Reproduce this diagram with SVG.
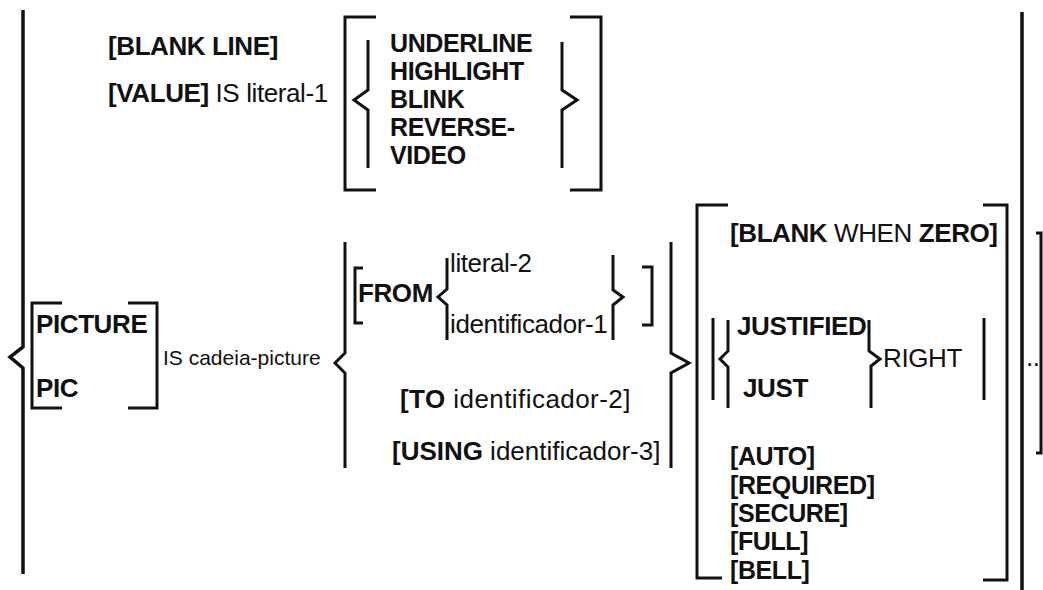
<svg xmlns="http://www.w3.org/2000/svg" width="1043" height="590" viewBox="0 0 1043 590">
<style>
text{font-family:"Liberation Sans",Arial,sans-serif;font-size:26px;fill:#111;letter-spacing:-0.4px;}
.b{font-weight:bold;}
.r{font-weight:normal;}
.sm{font-size:21px;letter-spacing:0;}
.st{font-size:25px;}
path{fill:none;stroke:#111;stroke-width:3;stroke-linejoin:miter;stroke-linecap:butt;}
.thick{stroke-width:3.5;}
</style>
<rect width="1043" height="590" fill="#fff"/>

<g id="outer-left">
<path class="thick" d="M23,10 V347 L10,357 L23,368 V574"/>
</g>

<g id="top-row">
<text x="108" y="55" class="b">[BLANK LINE]</text>
<text x="108" y="102"><tspan class="b">[VALUE]</tspan><tspan class="r"> IS literal-1</tspan></text>
<path d="M376,17 H345 V190 H376"/>
<path d="M368,40 V90 L354,100 L368,110 V168"/>
<text x="390" y="52" class="b st">UNDERLINE</text>
<text x="390" y="80" class="b st">HIGHLIGHT</text>
<text x="390" y="108" class="b st">BLINK</text>
<text x="390" y="136" class="b st">REVERSE-</text>
<text x="390" y="164" class="b st">VIDEO</text>
<path d="M562,42 V90 L577,100 L562,110 V168"/>
<path d="M570,17 H601 V190 H570"/>
</g>

<g id="picture">
<path d="M62,303 H32 V408 H62"/>
<path d="M128,303 H157 V408 H128"/>
<text x="36" y="333" class="b">PICTURE</text>
<text x="36" y="397" class="b">PIC</text>
<text x="163" y="365" class="r sm">IS cadeia-picture</text>
</g>

<g id="from-group">
<path d="M345,242 V353 L335,363 L345,373 V468"/>
<path d="M363,268 H355 V323 H363"/>
<text x="358" y="302" class="b">FROM</text>
<path d="M447,258 V289 L438,297 L447,305 V340"/>
<text x="450" y="272" class="r">literal-2</text>
<text x="450" y="333" class="r">identificador-1</text>
<path d="M613,255 V290 L623,297 L613,305 V340"/>
<path d="M642,267 H652 V325 H642"/>
<text x="400" y="408" textLength="230"><tspan class="b">[TO</tspan><tspan class="r"> identificador-2]</tspan></text>
<text x="392" y="460" textLength="268"><tspan class="b">[USING</tspan><tspan class="r"> identificador-3]</tspan></text>
<path d="M671,242 V353 L689,363 L671,373 V468"/>
</g>

<g id="options">
<path d="M728,205 H697 V578 H722"/>
<path d="M983,205 H1007 V580 H983"/>
<text x="730" y="242"><tspan class="b">[BLANK</tspan><tspan class="r"> WHEN </tspan><tspan class="b">ZERO]</tspan></text>
<path d="M713,318 V400"/>
<path d="M728,320 V351 L720,359 L728,367 V408"/>
<text x="737" y="335" class="b">JUSTIFIED</text>
<text x="743" y="397" class="b">JUST</text>
<path d="M869,320 V351 L880,359 L871,366 V408"/>
<text x="883" y="367" class="r">RIGHT</text>
<path d="M984,318 V400"/>
<text x="730" y="465" class="b st">[AUTO]</text>
<text x="730" y="494" class="b st">[REQUIRED]</text>
<text x="730" y="522" class="b st">[SECURE]</text>
<text x="730" y="550" class="b st">[FULL]</text>
<text x="730" y="579" class="b st">[BELL]</text>
</g>

<g id="outer-right">
<path class="thick" d="M1022,12 V590"/>
<text x="1026" y="366" class="r">..</text>
<path d="M1036,233 H1041 V453 H1036"/>
</g>
</svg>
